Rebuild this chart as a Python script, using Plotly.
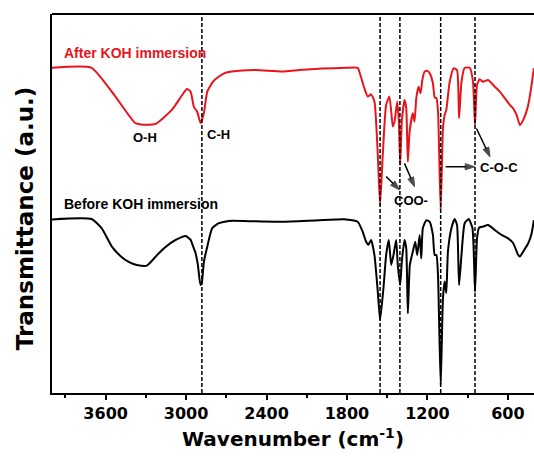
import plotly.graph_objects as go

# ---- data ----
wn_after = [4000, 3705, 3527, 3378, 3316, 3228, 3106, 3039, 2994, 2966, 2942, 2917, 2892, 2867, 2842,
            2800, 2755, 2705, 2605, 2480, 2283, 2156, 1984, 1805, 1720, 1700, 1670, 1645, 1620, 1595,
            1570, 1553, 1533, 1508, 1483, 1458, 1445, 1425, 1413, 1403, 1391, 1371, 1358, 1346, 1333,
            1309, 1296, 1283, 1266, 1251, 1238, 1221, 1199, 1184, 1159, 1146, 1133, 1121, 1101, 1084,
            1071, 1059, 1034, 1004, 979, 964, 946, 922, 884, 860, 845, 830, 810, 785, 748, 697, 660,
            623, 585, 563, 535, 510, 486, 448, 423, 406]
t_after = [85.8, 85.8, 78.2, 71.2, 70.8, 71.0, 74.7, 78.1, 80.2, 79.5, 75.5, 74.2, 71.2, 73.9, 79.5,
           82.1, 83.5, 84.5, 85.0, 85.2, 84.8, 85.2, 85.6, 85.8, 85.8, 83.9, 80.4, 78.2, 78.8, 76.9,
           62.8, 49.6, 62.8, 76.0, 78.2, 70.3, 71.6, 76.9, 71.6, 60.2, 71.6, 77.3, 75.2, 61.0, 68.9,
           73.8, 71.6, 77.8, 80.8, 79.1, 82.6, 84.8, 85.0, 84.4, 81.8, 78.0, 77.8, 74.4, 48.3, 69.8,
           73.4, 74.7, 82.1, 85.7, 85.2, 72.5, 82.1, 85.8, 85.8, 82.1, 70.7, 81.3, 82.8, 82.1, 82.6,
           80.8, 79.5, 77.8, 76.0, 75.2, 73.4, 70.7, 72.0, 76.0, 81.3, 85.7]

wn_before = [4000, 3705, 3630, 3553, 3488, 3428, 3368, 3293, 3203, 3114, 3029, 3002, 2966, 2949, 2929,
             2912, 2893, 2882, 2867, 2842, 2805, 2755, 2680, 2480, 2281, 2006, 1807, 1720, 1683, 1657,
             1640, 1620, 1595, 1570, 1553, 1528, 1508, 1488, 1470, 1453, 1433, 1421, 1403, 1391, 1371,
             1358, 1346, 1331, 1309, 1291, 1276, 1258, 1246, 1234, 1208, 1184, 1159, 1146, 1133, 1121,
             1101, 1084, 1071, 1059, 1047, 1021, 997, 979, 964, 946, 922, 892, 864, 845, 830, 815, 785,
             748, 697, 647, 598, 560, 523, 510, 486, 448, 423, 406]
t_before = [45.8, 45.9, 43.5, 38.6, 36.1, 34.6, 33.8, 33.6, 36.9, 39.6, 41.2, 41.4, 40.4, 38.8, 36.9,
            33.8, 28.5, 29.3, 34.6, 38.6, 43.5, 44.8, 45.4, 45.3, 45.2, 45.6, 45.8, 45.2, 42.6, 39.9,
            39.1, 40.4, 36.4, 26.7, 19.3, 27.6, 36.4, 40.4, 33.8, 36.4, 40.4, 33.8, 28.5, 34.6, 40.4,
            38.2, 21.0, 33.8, 37.3, 39.9, 36.4, 41.7, 35.5, 43.5, 45.6, 45.2, 41.7, 36.4, 36.4, 31.1,
            2.1, 25.0, 29.4, 26.4, 37.3, 43.5, 45.9, 44.3, 28.5, 36.4, 44.8, 45.9, 43.5, 26.7, 40.8,
            43.6, 43.9, 44.3, 43.0, 41.7, 40.8, 39.5, 36.4, 36.0, 37.3, 39.5, 42.1, 45.6]

band_positions = [2882, 1553, 1405, 1101, 845]

series_names = ["After KOH immersion", "Before KOH immersion"]
band_labels = ["O-H", "C-H", "COO-", "C-O-C"]
x_ticks = [3600, 3000, 2400, 1800, 1200, 600]

# arrow start / end points (wavenumber, a.u.)
arrow_x0 = [1508, 1371, 1064, 834]
arrow_y0 = [57.1, 60.6, 59.7, 69.8]
arrow_x1 = [1408, 1296, 847, 733]
arrow_y1 = [53.6, 54.4, 59.7, 62.3]

RED = "#e8141b"

# ---- figure ----
fig = go.Figure()
fig.add_trace(go.Scatter(x=wn_after, y=t_after, mode="lines", name=series_names[0],
                         line=dict(color=RED, width=2, shape="spline", smoothing=0.5),
                         showlegend=False))
fig.add_trace(go.Scatter(x=wn_before, y=t_before, mode="lines", name=series_names[1],
                         line=dict(color="#000000", width=2, shape="spline", smoothing=0.5),
                         showlegend=False))

for b in band_positions:
    fig.add_shape(type="line", xref="x", yref="paper", x0=b, x1=b, y0=0, y1=1,
                  line=dict(color="black", width=1.5, dash="4px,2px"), layer="above")

# arrows as line + arrow-marker traces
for x0, y0, x1, y1 in zip(arrow_x0, arrow_y0, arrow_x1, arrow_y1):
    fig.add_trace(go.Scatter(x=[x0, x1], y=[y0, y1], mode="lines+markers",
                             line=dict(color="black", width=1.5),
                             marker=dict(symbol=["circle", "arrow"], size=[0, 10], color="black",
                                         angleref="previous", line=dict(width=1, color="black")),
                             showlegend=False, hoverinfo="skip"))

# top frame line
fig.add_shape(type="line", xref="paper", yref="paper", x0=0, x1=1, y0=1, y1=1,
              line=dict(color="black", width=2))

lab_font = dict(family="Liberation Sans, Arial", size=14, color="black", weight="bold")
small_font = dict(family="Liberation Sans, Arial", size=13, color="black", weight="bold")

fig.add_annotation(x=3929, y=89.8, text=series_names[0], showarrow=False, xanchor="left",
                   yanchor="middle", font=dict(lab_font, color=RED))
fig.add_annotation(x=3929, y=49.8, text=series_names[1], showarrow=False, xanchor="left",
                   yanchor="middle", font=lab_font)
fig.add_annotation(x=3308, y=67.5, text=band_labels[0], showarrow=False, xanchor="center",
                   yanchor="middle", font=small_font)
fig.add_annotation(x=2859, y=68.3, text=band_labels[1], showarrow=False, xanchor="left",
                   yanchor="middle", font=small_font)
fig.add_annotation(x=1326, y=50.9, text=band_labels[2], showarrow=False, xanchor="center",
                   yanchor="middle", font=small_font)
fig.add_annotation(x=664, y=59.6, text=band_labels[3], showarrow=False, xanchor="center",
                   yanchor="middle", font=small_font)

axis_font = dict(family="DejaVu Sans", size=20, color="black", weight="bold")
fig.add_annotation(xref="paper", yref="paper", x=0.5, y=-0.12, text="Wavenumber (cm<sup>-1</sup>)",
                   showarrow=False, xanchor="center", yanchor="middle", font=axis_font)
fig.add_annotation(xref="paper", yref="paper", x=-0.057, y=0.46, text="Transmittance (a.u.)",
                   showarrow=False, xanchor="center", yanchor="middle", textangle=-90,
                   font=dict(axis_font, size=23))

fig.update_layout(
    width=534, height=463,
    margin=dict(l=52, r=0, t=14, b=70),
    paper_bgcolor="white", plot_bgcolor="white",
    xaxis=dict(range=[4000, 405], tickvals=x_ticks, ticks="outside", ticklen=5, tickwidth=1.5,
               tickcolor="black", showline=True, linewidth=2, linecolor="black",
               showgrid=False, zeroline=False,
               tickfont=dict(family="DejaVu Sans", size=16, color="black", weight="bold"),
               minor=dict(ticks="outside", ticklen=3, tickwidth=1.5, tickcolor="black",
                          tick0=0, dtick=300, showgrid=False)),
    yaxis=dict(range=[0, 100], showticklabels=False, ticks="", showline=True, linewidth=2,
               linecolor="black", showgrid=False, zeroline=False),
)

fig.write_html("out.html")
